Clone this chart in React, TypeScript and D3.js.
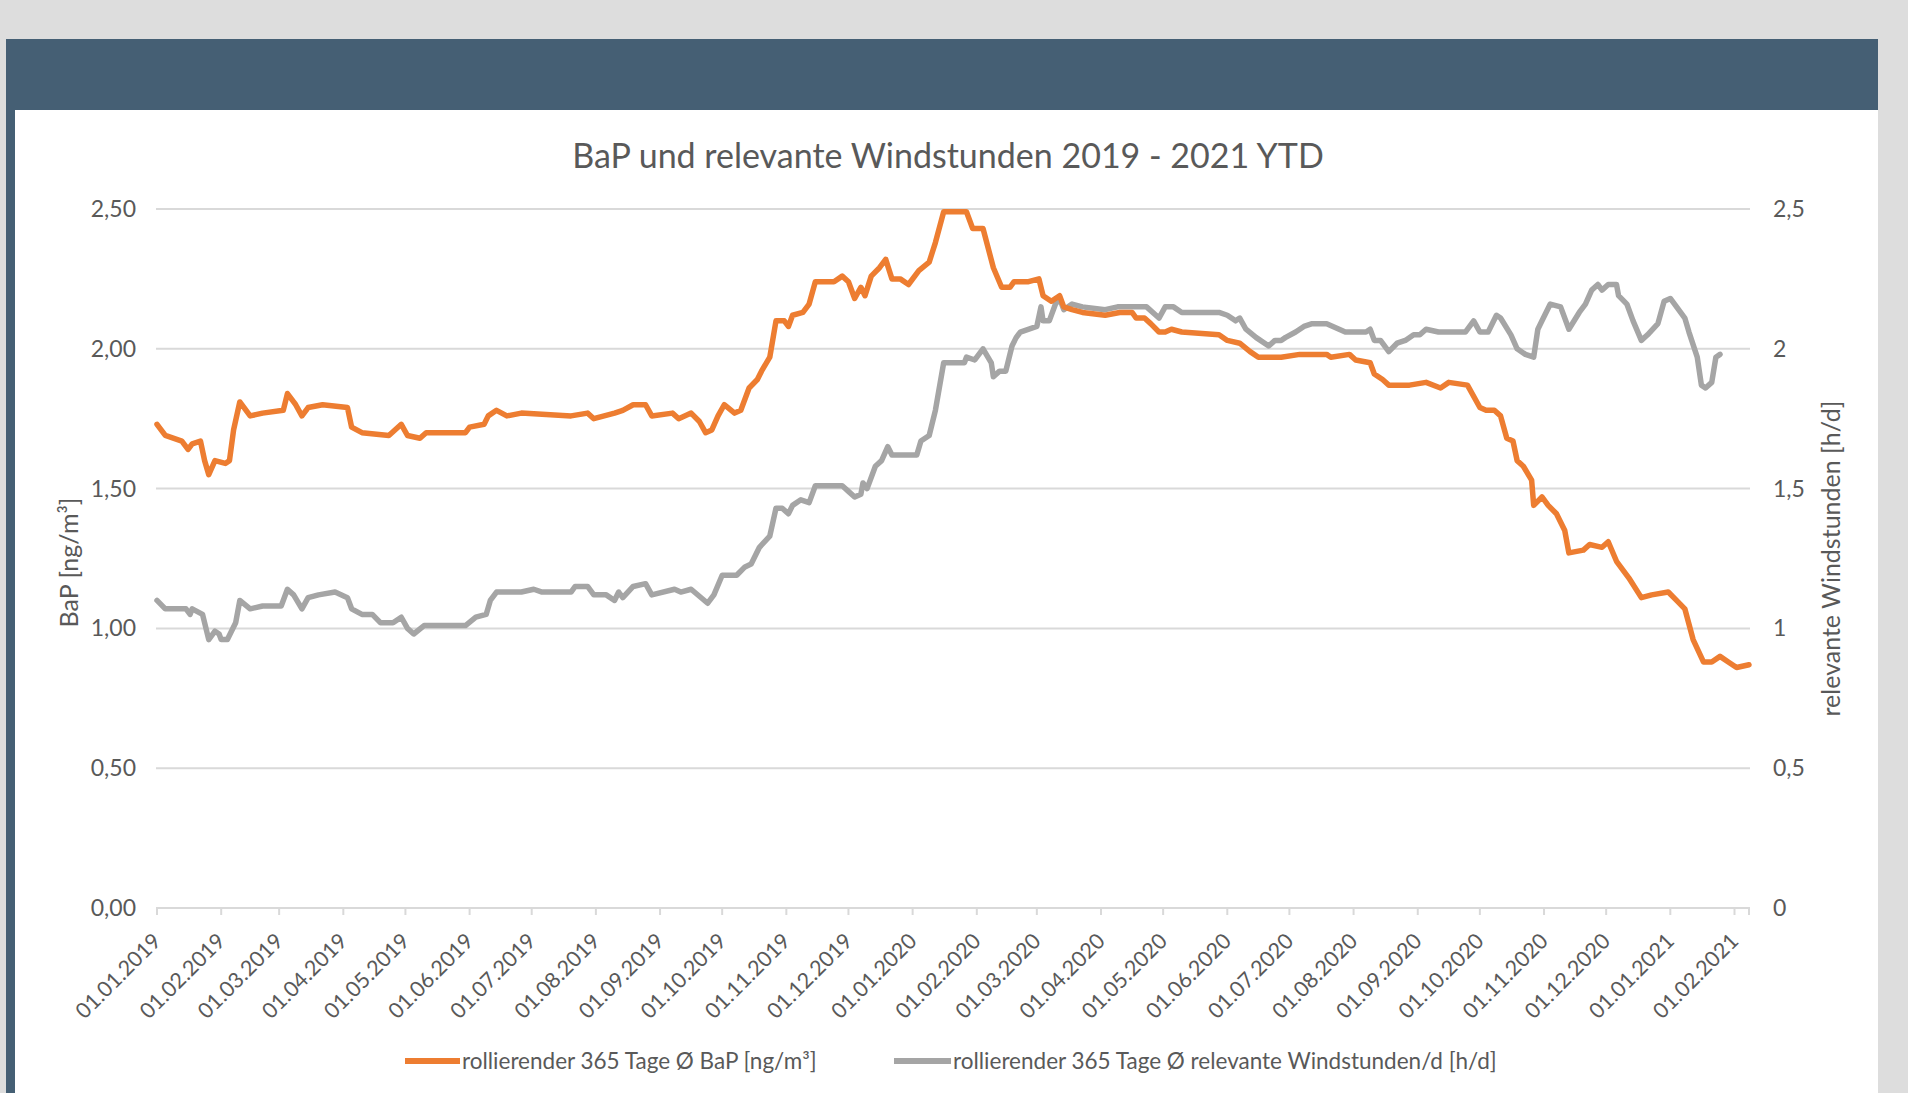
import * as d3 from "d3";

const W = 1908;
const H = 1093;

const title = "BaP und relevante Windstunden 2019 - 2021 YTD";
const yTicks = [0, 0.5, 1, 1.5, 2, 2.5];
const leftTickLabels = ["0,00", "0,50", "1,00", "1,50", "2,00", "2,50"];
const rightTickLabels = ["0", "0,5", "1", "1,5", "2", "2,5"];
const leftTitle = "BaP [ng/m³]";
const rightTitle = "relevante Windstunden [h/d]";
const seriesNames = [
  "rollierender 365 Tage Ø BaP [ng/m³]",
  "rollierender 365 Tage Ø relevante Windstunden/d [h/d]",
];
const seriesColors = ["#ED7D31", "#A5A5A5"];

// [days since 01.01.2019, value]
const bap: [number, number][] = [
  [0, 1.73], [4, 1.69], [12, 1.67], [15, 1.64], [17, 1.66], [21, 1.67], [23, 1.6], [25, 1.55],
  [28, 1.6], [33, 1.59], [35, 1.6], [37, 1.71], [40, 1.81], [45, 1.76], [51, 1.77], [61, 1.78],
  [63, 1.84], [67, 1.8], [70, 1.76], [73, 1.79], [80, 1.8], [92, 1.79], [94, 1.72], [99, 1.7],
  [112, 1.69], [118, 1.73], [121, 1.69], [127, 1.68], [130, 1.7], [149, 1.7], [151, 1.72],
  [158, 1.73], [160, 1.76], [164, 1.78], [169, 1.76], [176, 1.77], [200, 1.76], [208, 1.77],
  [211, 1.75], [221, 1.77], [225, 1.78], [230, 1.8], [236, 1.8], [239, 1.76], [249, 1.77],
  [252, 1.75], [258, 1.77], [262, 1.74], [265, 1.7], [268, 1.71], [271, 1.76], [274, 1.8],
  [279, 1.77], [282, 1.78], [286, 1.86], [290, 1.89], [292, 1.92], [296, 1.97], [299, 2.1],
  [303, 2.1], [305, 2.08], [307, 2.12], [312, 2.13], [315, 2.16], [318, 2.24], [327, 2.24],
  [331, 2.26], [334, 2.24], [337, 2.18], [340, 2.22], [342, 2.19], [345, 2.26], [349, 2.29],
  [352, 2.32], [355, 2.25], [359, 2.25], [363, 2.23], [368, 2.28], [373, 2.31], [376, 2.38],
  [380, 2.49], [388, 2.49], [391, 2.49], [394, 2.43], [399, 2.43], [404, 2.29], [408, 2.22],
  [412, 2.22], [414, 2.24], [421, 2.24], [426, 2.25], [428, 2.19], [432, 2.17], [436, 2.19],
  [438, 2.15], [442, 2.14], [447, 2.13], [458, 2.12], [465, 2.13], [471, 2.13], [473, 2.11],
  [477, 2.11], [480, 2.09], [484, 2.06], [487, 2.06], [490, 2.07], [495, 2.06], [513, 2.05],
  [517, 2.03], [523, 2.02], [528, 1.99], [532, 1.97], [543, 1.97], [552, 1.98], [565, 1.98],
  [567, 1.97], [576, 1.98], [579, 1.96], [586, 1.95], [588, 1.91], [592, 1.89], [595, 1.87],
  [605, 1.87], [613, 1.88], [620, 1.86], [624, 1.88], [633, 1.87], [639, 1.79], [642, 1.78],
  [646, 1.78], [649, 1.76], [652, 1.68], [655, 1.67], [657, 1.6], [660, 1.58], [664, 1.53],
  [665, 1.44], [669, 1.47], [672, 1.44], [676, 1.41], [680, 1.35], [682, 1.27], [689, 1.28],
  [692, 1.3], [698, 1.29], [701, 1.31], [705, 1.24], [711, 1.18], [717, 1.11], [722, 1.12],
  [730, 1.13], [734, 1.1], [738, 1.07], [742, 0.96], [747, 0.88], [751, 0.88], [755, 0.9],
  [759, 0.88], [763, 0.86], [769, 0.87],
];

const wind: [number, number][] = [
  [0, 1.1], [4, 1.07], [14, 1.07], [16, 1.05], [17, 1.07], [22, 1.05], [25, 0.96], [28, 0.99],
  [30, 0.98], [31, 0.96], [34, 0.96], [38, 1.02], [40, 1.1], [45, 1.07], [51, 1.08], [60, 1.08],
  [63, 1.14], [66, 1.12], [70, 1.07], [73, 1.11], [78, 1.12], [86, 1.13], [92, 1.11], [94, 1.07],
  [99, 1.05], [104, 1.05], [108, 1.02], [114, 1.02], [118, 1.04], [121, 1.0], [124, 0.98],
  [129, 1.01], [149, 1.01], [154, 1.04], [159, 1.05], [161, 1.1], [164, 1.13], [176, 1.13],
  [182, 1.14], [186, 1.13], [200, 1.13], [202, 1.15], [208, 1.15], [211, 1.12], [217, 1.12],
  [221, 1.1], [223, 1.13], [225, 1.11], [230, 1.15], [236, 1.16], [239, 1.12], [250, 1.14],
  [253, 1.13], [258, 1.14], [266, 1.09], [269, 1.12], [273, 1.19], [280, 1.19], [284, 1.22],
  [287, 1.23], [291, 1.29], [296, 1.33], [299, 1.43], [302, 1.43], [305, 1.41], [307, 1.44],
  [311, 1.46], [315, 1.45], [318, 1.51], [331, 1.51], [334, 1.49], [337, 1.47], [340, 1.48],
  [341, 1.52], [343, 1.5], [347, 1.58], [350, 1.6], [353, 1.65], [355, 1.62], [367, 1.62],
  [369, 1.67], [373, 1.69], [376, 1.78], [380, 1.95], [384, 1.95], [390, 1.95], [391, 1.97],
  [395, 1.96], [399, 2.0], [403, 1.95], [404, 1.9], [407, 1.92], [410, 1.92], [413, 2.01],
  [415, 2.04], [417, 2.06], [425, 2.08], [427, 2.15], [428, 2.1], [431, 2.1], [434, 2.16],
  [436, 2.18], [438, 2.14], [442, 2.16], [447, 2.15], [458, 2.14], [464, 2.15], [471, 2.15],
  [478, 2.15], [484, 2.11], [487, 2.15], [491, 2.15], [495, 2.13], [508, 2.13], [513, 2.13],
  [517, 2.12], [521, 2.1], [523, 2.11], [526, 2.07], [531, 2.04], [537, 2.01], [540, 2.03],
  [543, 2.03], [545, 2.04], [550, 2.06], [554, 2.08], [558, 2.09], [565, 2.09], [568, 2.08],
  [574, 2.06], [584, 2.06], [586, 2.07], [588, 2.03], [591, 2.03], [595, 1.99], [599, 2.02],
  [603, 2.03], [607, 2.05], [610, 2.05], [613, 2.07], [619, 2.06], [632, 2.06], [636, 2.1],
  [639, 2.06], [643, 2.06], [647, 2.12], [649, 2.11], [654, 2.05], [657, 2.0], [661, 1.98],
  [665, 1.97], [667, 2.07], [669, 2.1], [673, 2.16], [678, 2.15], [682, 2.07], [687, 2.13],
  [690, 2.16], [693, 2.21], [696, 2.23], [698, 2.21], [701, 2.23], [705, 2.23], [706, 2.19],
  [710, 2.16], [713, 2.1], [717, 2.03], [720, 2.05], [725, 2.09], [728, 2.17], [731, 2.18],
  [735, 2.14], [738, 2.11], [740, 2.06], [744, 1.97], [746, 1.87], [748, 1.86], [751, 1.88],
  [753, 1.97], [755, 1.98],
];

const start = new Date(2019, 0, 1);
const end = new Date(2021, 1, 8);

const font = "Lato, 'Open Sans', sans-serif";
const textColor = "#595959";
const gridColor = "#d9d9d9";

export default function App() {
  const plot = { left: 157, right: 1749, top: 209, bottom: 908 };

  const x = d3.scaleTime().domain([start, end]).range([plot.left, plot.right]);
  const y = d3.scaleLinear().domain([0, 2.5]).range([plot.bottom, plot.top]);
  const yRight = d3.scaleLinear().domain([0, 2.5]).range([plot.bottom, plot.top]);

  const toDate = (d: number) => d3.timeDay.offset(start, d);
  const lineLeft = d3
    .line<[number, number]>()
    .x((d) => x(toDate(d[0])))
    .y((d) => y(d[1]));
  const lineRight = d3
    .line<[number, number]>()
    .x((d) => x(toDate(d[0])))
    .y((d) => yRight(d[1]));

  const months = d3.timeMonth.range(start, d3.timeDay.offset(end, 1));
  const fmt = d3.timeFormat("%d.%m.%Y");

  const cy = (plot.top + plot.bottom) / 2;

  return (
    <svg
      width={W}
      height={H}
      style={{ position: "absolute", left: 0, top: 0, display: "block" }}
      fontFamily={font}
    >
      <rect x={0} y={0} width={W} height={H} fill="#dddddd" />
      <rect x={6} y={39} width={1872} height={71} fill="#455f74" />
      <rect x={6} y={110} width={9} height={H - 110} fill="#455f74" />
      <rect x={15} y={110} width={1863} height={H - 110} fill="#ffffff" />

      <text x={948} y={168} textAnchor="middle" fontSize={34} fill={textColor}>
        {title}
      </text>

      {yTicks.map((t, i) => (
        <g key={t}>
          <line
            x1={plot.left - 1}
            x2={plot.right + 1}
            y1={y(t)}
            y2={y(t)}
            stroke={gridColor}
            strokeWidth={2}
          />
          <text
            x={136}
            y={y(t)}
            dy="0.35em"
            textAnchor="end"
            fontSize={23}
            fill={textColor}
          >
            {leftTickLabels[i]}
          </text>
          <text x={1773} y={yRight(t)} dy="0.35em" fontSize={23} fill={textColor}>
            {rightTickLabels[i]}
          </text>
        </g>
      ))}

      {months.map((m) => (
        <g key={m.getTime()}>
          <line
            x1={x(m)}
            x2={x(m)}
            y1={plot.bottom}
            y2={plot.bottom + 7}
            stroke={gridColor}
            strokeWidth={2}
          />
          <text
            transform={`translate(${x(m)},${plot.bottom + 29}) rotate(-45)`}
            textAnchor="end"
            dy="0.35em"
            fontSize={21.5}
            fill={textColor}
          >
            {fmt(m)}
          </text>
        </g>
      ))}
      <line
        x1={plot.right}
        x2={plot.right}
        y1={plot.bottom}
        y2={plot.bottom + 7}
        stroke={gridColor}
        strokeWidth={2}
      />

      <text
        transform={`translate(69,${cy + 4}) rotate(-90)`}
        textAnchor="middle"
        dy="0.35em"
        fontSize={25}
        fill={textColor}
      >
        {leftTitle}
      </text>
      <text
        transform={`translate(1831,${cy}) rotate(-90)`}
        textAnchor="middle"
        dy="0.35em"
        fontSize={25}
        fill={textColor}
      >
        {rightTitle}
      </text>

      <path
        d={lineRight(wind) ?? ""}
        fill="none"
        stroke={seriesColors[1]}
        strokeWidth={5.5}
        strokeLinejoin="round"
        strokeLinecap="round"
      />
      <path
        d={lineLeft(bap) ?? ""}
        fill="none"
        stroke={seriesColors[0]}
        strokeWidth={5.5}
        strokeLinejoin="round"
        strokeLinecap="round"
      />

      {[
        { x0: 405, tx: 462 },
        { x0: 894, tx: 953 },
      ].map((l, i) => (
        <g key={i}>
          <line
            x1={l.x0}
            x2={l.tx - 2}
            y1={1061}
            y2={1061}
            stroke={seriesColors[i]}
            strokeWidth={6}
          />
          <text x={l.tx} y={1061} dy="0.35em" fontSize={22.5} fill={textColor}>
            {seriesNames[i]}
          </text>
        </g>
      ))}
    </svg>
  );
}
